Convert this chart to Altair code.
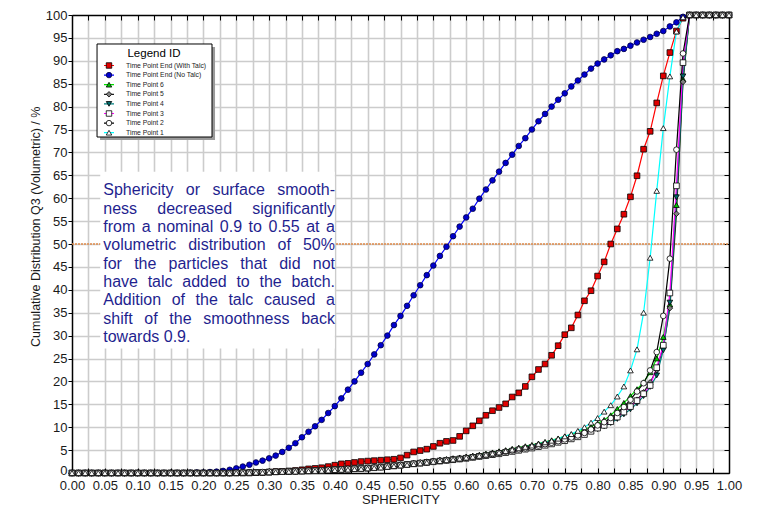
import altair as alt
import pandas as pd

# ---------------- data ----------------
xs = [round(i * 0.01, 2) for i in range(101)]

series_names = [
    "Time Point End (With Talc)", "Time Point End (No Talc)", "Time Point 6",
    "Time Point 5", "Time Point 4", "Time Point 3", "Time Point 2", "Time Point 1",
]

end_with_talc = [0.0] * 28 + [
    0.1, 0.15, 0.2, 0.3, 0.35, 0.45, 0.55, 0.7, 0.9, 1.0,
    1.15, 1.4, 1.7, 2.0, 2.1, 2.3, 2.5, 2.6, 2.7, 2.8,
    2.9, 3.0, 3.3, 3.9, 4.6, 4.9, 5.2, 5.8, 6.5, 6.9,
    7.1, 8.0, 9.2, 10.3, 11.4, 12.6, 13.6, 14.3, 15.1, 16.6,
    17.5, 18.9, 21.0, 22.6, 23.8, 25.7, 27.8, 30.2, 31.7, 34.5,
    37.6, 39.8, 43.0, 46.1, 50.0, 53.3, 56.5, 60.3, 64.9, 70.7,
    74.6, 80.8, 86.7, 91.8, 96.5, 99.3,
] + [100.0] * 7

end_no_talc = [0.0] * 18 + [
    0.05, 0.1, 0.1, 0.2, 0.3, 0.45, 0.7, 1.0, 1.4, 1.8,
    2.3, 2.7, 3.2, 3.8, 4.6, 5.5, 6.5, 7.8, 9.0, 10.2,
    11.6, 13.1, 14.6, 16.3, 18.2, 20.0, 21.9, 23.8, 25.9, 27.9,
    30.0, 32.3, 34.3, 36.5, 38.8, 41.0, 43.2, 45.3, 47.4, 49.4,
    51.7, 53.8, 55.8, 57.7, 59.9, 61.9, 63.9, 65.8, 67.7, 69.5,
    71.4, 73.1, 75.0, 76.8, 78.4, 80.0, 81.5, 82.9, 84.4, 85.7,
    87.0, 88.3, 89.4, 90.3, 91.2, 92.1, 92.6, 93.3, 94.0, 94.6,
    95.2, 95.9, 96.5, 97.5, 98.4, 99.6,
] + [100.0] * 7

tp6 = [0.0] * 25 + [
    0.05, 0.1, 0.1, 0.15, 0.2, 0.25, 0.3, 0.35, 0.4, 0.45,
    0.5, 0.55, 0.6, 0.65, 0.75, 0.85, 0.9, 0.95, 1.05, 1.1,
    1.2, 1.3, 1.45, 1.6, 1.75, 1.9, 2.05, 2.2, 2.35, 2.55,
    2.75, 2.9, 3.05, 3.25, 3.4, 3.6, 3.8, 4.0, 4.25, 4.5,
    4.75, 5.0, 5.3, 5.55, 5.85, 6.15, 6.45, 6.8, 7.15, 7.55,
    8.0, 8.45, 8.95, 9.5, 10.1, 10.8, 11.6, 12.6, 14.0, 15.3,
    16.8, 18.3, 19.8, 22.0, 25.0, 29.7, 36.8, 58.5, 86.0,
] + [100.0] * 7

tp5 = [0.0] * 25 + [
    0.05, 0.1, 0.1, 0.15, 0.2, 0.25, 0.3, 0.3, 0.35, 0.4,
    0.45, 0.5, 0.55, 0.6, 0.7, 0.8, 0.85, 0.9, 1.0, 1.05,
    1.1, 1.2, 1.35, 1.5, 1.65, 1.8, 1.95, 2.1, 2.25, 2.4,
    2.6, 2.75, 2.9, 3.05, 3.2, 3.4, 3.6, 3.8, 4.0, 4.2,
    4.45, 4.7, 4.95, 5.2, 5.45, 5.75, 6.05, 6.35, 6.65, 7.0,
    7.4, 7.8, 8.25, 8.75, 9.35, 10.0, 10.6, 11.4, 12.4, 13.4,
    14.6, 16.0, 17.6, 19.8, 22.5, 27.5, 36.0, 56.6, 85.4,
] + [100.0] * 7

tp4 = [0.0] * 25 + [
    0.05, 0.05, 0.1, 0.1, 0.15, 0.2, 0.25, 0.3, 0.3, 0.35,
    0.4, 0.45, 0.5, 0.55, 0.65, 0.75, 0.8, 0.85, 0.95, 1.0,
    1.05, 1.15, 1.3, 1.45, 1.6, 1.75, 1.9, 2.05, 2.2, 2.35,
    2.5, 2.65, 2.8, 2.95, 3.1, 3.3, 3.5, 3.7, 3.9, 4.1,
    4.35, 4.6, 4.85, 5.1, 5.35, 5.6, 5.9, 6.2, 6.5, 6.85,
    7.2, 7.6, 8.05, 8.5, 9.05, 9.6, 10.2, 10.9, 11.8, 12.8,
    13.9, 15.2, 16.8, 18.8, 21.3, 26.8, 37.2, 60.2, 86.6,
] + [100.0] * 7

tp3 = [0.0] * 25 + [
    0.05, 0.05, 0.1, 0.1, 0.15, 0.2, 0.25, 0.3, 0.35, 0.4,
    0.45, 0.5, 0.55, 0.6, 0.65, 0.75, 0.8, 0.85, 0.95, 1.0,
    1.05, 1.15, 1.3, 1.4, 1.55, 1.7, 1.85, 2.0, 2.15, 2.3,
    2.45, 2.6, 2.75, 2.9, 3.05, 3.2, 3.4, 3.6, 3.8, 4.0,
    4.2, 4.45, 4.7, 4.95, 5.2, 5.45, 5.75, 6.05, 6.35, 6.7,
    7.05, 7.45, 7.9, 8.4, 9.1, 9.8, 10.4, 11.2, 12.2, 13.3,
    14.5, 15.8, 17.3, 19.1, 23.0, 27.9, 39.3, 62.7, 89.6,
] + [100.0] * 7

tp2 = [0.0] * 25 + [
    0.05, 0.1, 0.1, 0.15, 0.2, 0.25, 0.3, 0.3, 0.35, 0.4,
    0.45, 0.5, 0.55, 0.6, 0.7, 0.75, 0.8, 0.9, 0.95, 1.0,
    1.1, 1.2, 1.3, 1.45, 1.6, 1.75, 1.9, 2.05, 2.2, 2.35,
    2.5, 2.65, 2.8, 2.95, 3.1, 3.3, 3.5, 3.7, 3.9, 4.15,
    4.4, 4.65, 4.9, 5.15, 5.4, 5.7, 6.0, 6.3, 6.6, 6.95,
    7.35, 7.75, 8.2, 8.75, 9.5, 10.4, 11.1, 12.0, 13.1, 14.4,
    16.0, 17.8, 19.6, 22.4, 26.4, 34.3, 46.8, 70.6, 91.6,
] + [100.0] * 7

tp1 = [0.0] * 25 + [
    0.0, 0.05, 0.05, 0.1, 0.1, 0.15, 0.2, 0.25, 0.3, 0.3,
    0.35, 0.4, 0.45, 0.5, 0.55, 0.65, 0.7, 0.75, 0.85, 0.9,
    1.0, 1.1, 1.2, 1.35, 1.5, 1.65, 1.8, 1.95, 2.1, 2.3,
    2.45, 2.6, 2.8, 2.95, 3.15, 3.35, 3.55, 3.75, 4.0, 4.25,
    4.5, 4.8, 5.1, 5.4, 5.7, 6.0, 6.35, 6.7, 7.05, 7.5,
    8.0, 8.5, 9.2, 10.0, 11.0, 12.0, 13.4, 14.8, 16.7, 18.9,
    22.4, 27.0, 35.0, 47.0, 61.6, 75.3, 86.6, 96.4, 99.5,
] + [100.0] * 7

all_series = [end_with_talc, end_no_talc, tp6, tp5, tp4, tp3, tp2, tp1]
for s in all_series:
    assert len(s) == len(xs), len(s)

line_colors = ["#ff0000", "#0000ff", "#00e000", "#202020", "#008080", "#ff00ff", "#000000", "#00ffff"]
fill_colors = ["#e00000", "#0000cc", "#00c800", "#808080", "#006a6a", "#ffffff", "#ffffff", "#ffffff"]
edge_colors = ["#000000", "#000040", "#000000", "#000000", "#000000", "#000000", "#000000", "#000000"]
shapes = ["square", "circle", "triangle-up", "diamond", "triangle-down", "square", "circle", "triangle-up"]

x_ticks = [round(i * 0.025, 3) for i in range(41)]
y_ticks = list(range(0, 101, 5))
x_grid = x_ticks[1:-1]
y_grid = y_ticks[1:-1]

annot_lines = [
    "Sphericity or surface smooth-",
    "ness decreased significantly",
    "from a nominal 0.9 to 0.55 at a",
    "volumetric distribution of 50%",
    "for the particles that did not",
    "have talc added to the batch.",
    "Addition of the talc caused a",
    "shift of the smoothness back",
    "towards 0.9.",
]

rows = []
for name, vals in zip(series_names, all_series):
    for xv, yv in zip(xs, vals):
        rows.append({"x": xv, "y": yv, "series": name, "series_l": name})
df = pd.DataFrame(rows)

# ---------------- layout ----------------
W, H = 657, 458
FONT = "Liberation Sans"
xscale = alt.Scale(domain=[0, 1], nice=False, zero=False)
yscale = alt.Scale(domain=[0, 100], nice=False, zero=False)

# ---- justified annotation: word placement (Arial/Liberation Sans advance widths, 1/1000 em)
CHAR_W = {
    " ": 278, "a": 556, "b": 556, "c": 500, "d": 556, "e": 556, "f": 278, "g": 556, "h": 556,
    "i": 222, "k": 500, "l": 222, "m": 833, "n": 556, "o": 556, "p": 556, "r": 333, "s": 500,
    "t": 278, "u": 556, "v": 500, "w": 722, "y": 500, "0": 556, "5": 556, "9": 556, ".": 278,
    "%": 889, "-": 333, "S": 667, "A": 667,
}
ANNOT_FS = 16
ANNOT_LH = 18.3          # px between lines
ANNOT_W = 231.7          # px width of the justified block
ANNOT_X0 = 0.0476        # left edge of the block (x units)
ANNOT_Y0 = 60.6          # baseline of the first line (y units)


def word_px(w):
    return sum(CHAR_W.get(c, 556) for c in w) * ANNOT_FS / 1000.0


word_rows = []
for li, line in enumerate(annot_lines):
    words = line.split(" ")
    widths = [word_px(w) for w in words]
    last = li == len(annot_lines) - 1
    gap = CHAR_W[" "] * ANNOT_FS / 1000.0 if (last or len(words) == 1) else \
        (ANNOT_W - sum(widths)) / (len(words) - 1)
    off = 0.0
    for w, wpx in zip(words, widths):
        word_rows.append({
            "word": w,
            "x": ANNOT_X0 + off / W,
            "y": ANNOT_Y0 - li * ANNOT_LH / (H / 100.0),
        })
        off += wpx + gap
words_df = pd.DataFrame(word_rows)

no_axis_common = dict(labels=False, grid=False, title=None)

# orange reference line at 50 (its axes draw the top and right frame)
rule_df = pd.DataFrame({"x0": [0.0], "x1": [1.0], "y": [50.0]})
rule = alt.Chart(rule_df).mark_rule(color="#e08a4a", strokeWidth=1.5, strokeDash=[2, 1]).encode(
    x=alt.X("x0:Q", scale=xscale, axis=alt.Axis(orient="bottom", offset=-H, values=x_ticks, ticks=True,
                                               tickSize=5, domain=True, **no_axis_common)),
    x2="x1:Q",
    y=alt.Y("y:Q", scale=yscale, axis=alt.Axis(orient="right", ticks=False, domain=True, **no_axis_common)),
)

# annotation box (its axes draw the grid)
box_df = pd.DataFrame({"x0": [0.043], "x1": [0.400], "y0": [65.8], "y1": [27.2]})
box = alt.Chart(box_df).mark_rect(fill="white").encode(
    x=alt.X("x0:Q", scale=xscale, axis=alt.Axis(orient="bottom", values=x_grid, grid=True, ticks=False,
                                               labels=False, domain=False, title=None)),
    x2="x1:Q",
    y=alt.Y("y0:Q", scale=yscale, axis=alt.Axis(orient="left", values=y_grid, grid=True, ticks=False,
                                               labels=False, domain=False, title=None)),
    y2="y1:Q",
)

# legend frame and its drop shadow
shadow_df = pd.DataFrame({"x0": [0.0427], "x1": [0.2177], "y0": [93.0], "y1": [72.7]})
shadow = alt.Chart(shadow_df).mark_rect(fill="#9a9a9a").encode(
    x=alt.X("x0:Q", scale=xscale, axis=None),
    x2="x1:Q",
    y=alt.Y("y0:Q", scale=yscale, axis=None),
    y2="y1:Q",
)
frame_df = pd.DataFrame({"x0": [0.0381], "x1": [0.2131], "y0": [93.67], "y1": [73.36]})
legend_frame = alt.Chart(frame_df).mark_rect(fill="white", stroke="black", strokeWidth=1).encode(
    x=alt.X("x0:Q", scale=xscale, axis=None),
    x2="x1:Q",
    y=alt.Y("y0:Q", scale=yscale, axis=None),
    y2="y1:Q",
)

text = alt.Chart(words_df).mark_text(
    align="left", baseline="alphabetic", font=FONT, fontSize=ANNOT_FS, color="#1f1f8f",
).encode(
    x=alt.X("x:Q", scale=xscale, axis=None),
    y=alt.Y("y:Q", scale=yscale, axis=None),
    text="word:N",
)

LEG_X, LEG_Y = 25, 29
TITLE_BLOCK = 13.5  # title height + padding, used to align the symbol-only legend

legend_common = dict(
    orient="none", legendX=LEG_X,
    labelFont=FONT, labelFontSize=6.8, padding=4, rowPadding=1.6, clipHeight=8,
)

line_legend = alt.Legend(
    legendY=LEG_Y, title="Legend ID", titleFont=FONT, titleFontSize=11.5,
    titleFontWeight="normal", titleAnchor="middle", titlePadding=2, titleColor="#000000",
    labelColor="#222222", labelOffset=11,
    symbolType="stroke", symbolSize=100, symbolStrokeWidth=1.2, symbolOffset=2,
    **legend_common,
)
pt_legend = alt.Legend(
    legendY=LEG_Y + TITLE_BLOCK, title=None, labelExpr="''", labelOffset=16,
    symbolSize=30, symbolStrokeWidth=0.8, symbolOffset=4.5, **legend_common,
)

lines = alt.Chart(df).mark_line(strokeWidth=1.2).encode(
    x=alt.X("x:Q", scale=xscale, axis=alt.Axis(
        orient="bottom", values=x_ticks, grid=False, ticks=False, domain=True,
        labelExpr="(round(datum.value*1000) % 50 == 0) ? format(datum.value, '.2f') : ''",
        labelPadding=6, labelFlush=False, labelOverlap=False, labelFontSize=13,
        title="SPHERICITY", titleFontSize=13, titleY=30, titleBaseline="alphabetic")),
    y=alt.Y("y:Q", scale=yscale, axis=alt.Axis(
        orient="left", values=y_ticks, grid=False, ticks=True, tickSize=4, domain=True,
        labelPadding=1, labelFlush=False, labelOverlap=False, labelFontSize=13,
        labelOffset={"condition": {"test": "datum.value == 0", "value": -2.5}, "value": 0},
        title="Cumulative Distribution Q3 (Volumetric) / %", titleFontSize=12.5,
        titleX=-32.4, titleY=211.3, titleBaseline="alphabetic", titleAlign="center")),
    color=alt.Color("series_l:N", sort=series_names, scale=alt.Scale(range=line_colors), legend=line_legend),
)

points = alt.Chart(df).mark_point(filled=True, size=32, strokeWidth=0.8, opacity=1).encode(
    x=alt.X("x:Q", scale=xscale, axis=alt.Axis(orient="top", offset=-H, values=x_ticks, ticks=True,
                                              tickSize=5, domain=False, **no_axis_common)),
    y=alt.Y("y:Q", scale=yscale, axis=alt.Axis(orient="left", offset=-W, values=y_ticks, ticks=True,
                                              tickSize=5, domain=False, **no_axis_common)),
    shape=alt.Shape("series:N", scale=alt.Scale(domain=series_names, range=shapes), legend=pt_legend),
    fill=alt.Fill("series:N", scale=alt.Scale(domain=series_names, range=fill_colors), legend=pt_legend),
    stroke=alt.Stroke("series:N", scale=alt.Scale(domain=series_names, range=edge_colors), legend=pt_legend),
)

chart = alt.layer(rule, box, shadow, legend_frame, text, lines, points).resolve_axis(
    x="independent", y="independent"
).properties(
    width=W, height=H,
    autosize=alt.AutoSizeParams(type="none"),
    padding={"left": 64, "top": 7, "right": 25, "bottom": 33},
).configure_view(stroke=None).configure_axis(
    labelFont=FONT, titleFont=FONT, labelColor="#1a1a1a", titleColor="#1a1a1a",
    titleFontWeight="normal", tickColor="#000000", tickWidth=1,
    domainColor="#000000", domainWidth=1.5, gridColor="#cccccc", gridWidth=1.6,
)

chart.save("out.html", embed_options={"renderer": "svg", "actions": False})
